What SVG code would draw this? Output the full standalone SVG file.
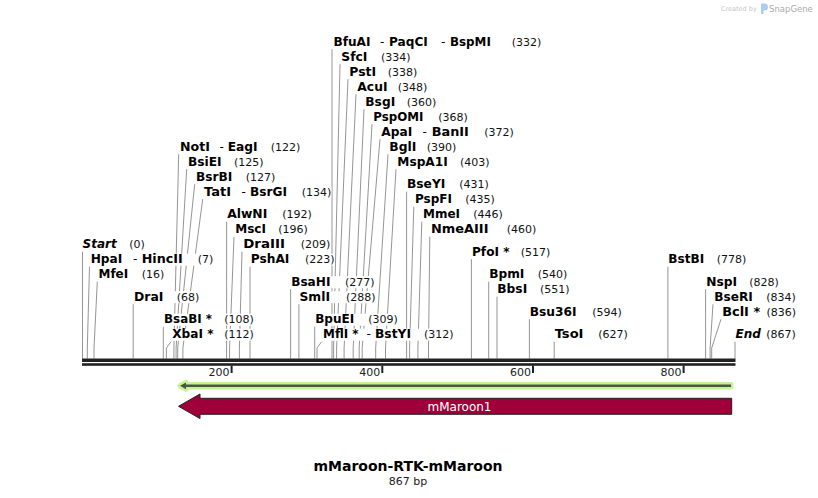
<svg xmlns="http://www.w3.org/2000/svg" width="818" height="498" viewBox="0 0 818 498">
<style>
.ln{stroke:#959595;stroke-width:1;fill:none}
.bg{fill:#fff}
.nm{font-family:"DejaVu Sans",Verdana,sans-serif;font-weight:bold;font-size:12px;fill:#000}
.it{font-style:italic}
.sp{font-family:"DejaVu Sans",Verdana,sans-serif;font-size:12px;fill:#000}
.nu{font-family:"DejaVu Sans",Verdana,sans-serif;font-size:11px;fill:#111}
.tk{font-family:"DejaVu Sans",Verdana,sans-serif;font-size:11px;fill:#222;text-anchor:end}
.ax{fill:#222}
</style>
<rect width="818" height="498" fill="#fff"/>
<g id="logo">
<text x="721" y="11" font-family="DejaVu Sans,sans-serif" font-size="6.5" fill="#c6c6c6">Created by</text>
<path d="M761,3.5 h3.5 a3.5,3.5 0 0 1 0,7 h-1 v3.5 h-2.5 z" fill="#a9cdee"/>
<text x="769" y="12" font-family="DejaVu Sans,sans-serif" font-size="8.5" fill="#ababab">SnapGene</text>
</g>
<g id="connectors">
<path class="ln" d="M82.5,251.7V358.5"/>
<path class="ln" d="M89.5,266.7L87.3,348V358.5"/>
<path class="ln" d="M97.3,281.7L94,348V358.5"/>
<path class="ln" d="M133.2,304.2V358.5"/>
<path class="ln" d="M163.3,326.7V358.5"/>
<path class="ln" d="M171,341.7L166.4,348V358.5"/>
<path class="ln" d="M178.7,154.2L173.9,348V358.5"/>
<path class="ln" d="M186.7,169.2L176.1,348V358.5"/>
<path class="ln" d="M194.7,184.2L177.7,348V358.5"/>
<path class="ln" d="M202.7,199.2L182.9,348V358.5"/>
<path class="ln" d="M226.6,221.7V358.5"/>
<path class="ln" d="M234,236.7L229.6,348V358.5"/>
<path class="ln" d="M242,251.7L239.4,348V358.5"/>
<path class="ln" d="M250,266.7V358.5"/>
<path class="ln" d="M290.6,289.2V358.5"/>
<path class="ln" d="M298.9,304.2V358.5"/>
<path class="ln" d="M314.7,326.7V358.5"/>
<path class="ln" d="M321.7,341.7L317,348V358.5"/>
<path class="ln" d="M332,49.2V358.5"/>
<path class="ln" d="M340,64.2L333.6,348V358.5"/>
<path class="ln" d="M348,79.2L336.6,348V358.5"/>
<path class="ln" d="M356,94.2L344.1,348V358.5"/>
<path class="ln" d="M364,109.2L353.2,348V358.5"/>
<path class="ln" d="M372,124.2L359.2,348V358.5"/>
<path class="ln" d="M380,139.2L362.2,348V358.5"/>
<path class="ln" d="M388,154.2L375.7,348V358.5"/>
<path class="ln" d="M396,169.2L385.5,348V358.5"/>
<path class="ln" d="M406.6,191.7V358.5"/>
<path class="ln" d="M413.8,206.7L409.6,348V358.5"/>
<path class="ln" d="M421.8,221.7L417.9,348V358.5"/>
<path class="ln" d="M429.8,236.7L428.5,348V358.5"/>
<path class="ln" d="M471.4,259.2V358.5"/>
<path class="ln" d="M488.7,281.7V358.5"/>
<path class="ln" d="M497,296.7V358.5"/>
<path class="ln" d="M529.4,319.2V358.5"/>
<path class="ln" d="M554.2,341.7V358.5"/>
<path class="ln" d="M667.9,266.7V358.5"/>
<path class="ln" d="M705.6,289.2V358.5"/>
<path class="ln" d="M713,304.2L710.1,348V358.5"/>
<path class="ln" d="M721,319.2L711.7,348V358.5"/>
<path class="ln" d="M735,341.7V358.5"/>
</g>
<g id="axis">
<rect class="ax" x="82" y="358.5" width="653.5" height="3.5"/>
<rect class="ax" x="82" y="363.2" width="653.5" height="2.6"/>
<rect class="ax" x="230.6" y="365.5" width="2" height="7.5"/>
<rect class="ax" x="381.3" y="365.5" width="2" height="7.5"/>
<rect class="ax" x="532" y="365.5" width="2" height="7.5"/>
<rect class="ax" x="682.6" y="365.5" width="2" height="7.5"/>
<text class="tk" x="229.5" y="375.5">200</text>
<text class="tk" x="380.2" y="375.5">400</text>
<text class="tk" x="530.9" y="375.5">600</text>
<text class="tk" x="681.5" y="375.5">800</text>
</g>
<g id="feature-green">
<path d="M180,385.8L186,382.4V384.6H731V387H186V389.2Z" fill="#4a5842" stroke="#c4f396" stroke-width="5" stroke-linejoin="round" paint-order="stroke"/>
</g>
<g id="feature-mMaroon1">
<path d="M178.5,406.3L200,394V398.3H731.7V414.3H200V418.6Z" fill="#a0003a" stroke="#222" stroke-width="1"/>
<text x="459.5" y="410.5" text-anchor="middle" font-family="DejaVu Sans,Verdana,sans-serif" font-size="12" fill="#fff">mMaroon1</text>
</g>
<g id="lbl-Start"><rect class="bg" x="81.5" y="238.7" width="63.4" height="12"/><text class="nm it" x="82.5" y="248.2">Start</text><text class="nu" x="129.3" y="248.2">(0)</text></g>
<g id="lbl-HpaI"><rect class="bg" x="89.7" y="253.7" width="123.6" height="12"/><text class="nm" x="90.7" y="263.2" textLength="31.6" lengthAdjust="spacingAndGlyphs">HpaI</text><text class="sp" x="133" y="263.2">-</text><text class="nm" x="141.7" y="263.2" textLength="41.1" lengthAdjust="spacingAndGlyphs">HincII</text><text class="nu" x="197.7" y="263.2">(7)</text></g>
<g id="lbl-MfeI"><rect class="bg" x="97.5" y="268.7" width="66.8" height="12"/><text class="nm" x="98.5" y="278.2" textLength="29.7" lengthAdjust="spacingAndGlyphs">MfeI</text><text class="nu" x="141.7" y="278.2">(16)</text></g>
<g id="lbl-DraI"><rect class="bg" x="133" y="291.2" width="66.3" height="12"/><text class="nm" x="134" y="300.7" textLength="29.4" lengthAdjust="spacingAndGlyphs">DraI</text><text class="nu" x="176.7" y="300.7">(68)</text></g>
<g id="lbl-BsaBI"><rect class="bg" x="163" y="313.7" width="90.9" height="12"/><text class="nm" x="164" y="323.2" textLength="48" lengthAdjust="spacingAndGlyphs">BsaBI *</text><text class="nu" x="224.3" y="323.2">(108)</text></g>
<g id="lbl-XbaI"><rect class="bg" x="171.2" y="328.7" width="82.7" height="12"/><text class="nm" x="172.2" y="338.2" textLength="41.3" lengthAdjust="spacingAndGlyphs">XbaI *</text><text class="nu" x="224.3" y="338.2">(112)</text></g>
<g id="lbl-NotI"><rect class="bg" x="179" y="141.2" width="121.3" height="12"/><text class="nm" x="180" y="150.7" textLength="30" lengthAdjust="spacingAndGlyphs">NotI</text><text class="sp" x="219.5" y="150.7">-</text><text class="nm" x="227.7" y="150.7" textLength="30" lengthAdjust="spacingAndGlyphs">EagI</text><text class="nu" x="270.7" y="150.7">(122)</text></g>
<g id="lbl-BsiEI"><rect class="bg" x="187" y="156.2" width="76.6" height="12"/><text class="nm" x="188" y="165.7" textLength="33.6" lengthAdjust="spacingAndGlyphs">BsiEI</text><text class="nu" x="234" y="165.7">(125)</text></g>
<g id="lbl-BsrBI"><rect class="bg" x="195" y="171.2" width="80.3" height="12"/><text class="nm" x="196" y="180.7" textLength="36.3" lengthAdjust="spacingAndGlyphs">BsrBI</text><text class="nu" x="245.7" y="180.7">(127)</text></g>
<g id="lbl-TatI"><rect class="bg" x="203" y="186.2" width="128.3" height="12"/><text class="nm" x="204" y="195.7" textLength="27" lengthAdjust="spacingAndGlyphs">TatI</text><text class="sp" x="241.5" y="195.7">-</text><text class="nm" x="250" y="195.7" textLength="37" lengthAdjust="spacingAndGlyphs">BsrGI</text><text class="nu" x="301.7" y="195.7">(134)</text></g>
<g id="lbl-AlwNI"><rect class="bg" x="226.2" y="208.7" width="85.7" height="12"/><text class="nm" x="227.2" y="218.2" textLength="40.1" lengthAdjust="spacingAndGlyphs">AlwNI</text><text class="nu" x="282.3" y="218.2">(192)</text></g>
<g id="lbl-MscI"><rect class="bg" x="234.2" y="223.7" width="73.7" height="12"/><text class="nm" x="235.2" y="233.2" textLength="30.8" lengthAdjust="spacingAndGlyphs">MscI</text><text class="nu" x="278.3" y="233.2">(196)</text></g>
<g id="lbl-DraIII"><rect class="bg" x="242.2" y="238.7" width="88.1" height="12"/><text class="nm" x="243.2" y="248.2" textLength="41.7" lengthAdjust="spacingAndGlyphs">DraIII</text><text class="nu" x="300.7" y="248.2">(209)</text></g>
<g id="lbl-PshAI"><rect class="bg" x="249.8" y="253.7" width="84.8" height="12"/><text class="nm" x="250.8" y="263.2" textLength="38.6" lengthAdjust="spacingAndGlyphs">PshAI</text><text class="nu" x="305" y="263.2">(223)</text></g>
<g id="lbl-BsaHI"><rect class="bg" x="290.2" y="276.2" width="84.4" height="12"/><text class="nm" x="291.2" y="285.7" textLength="39.2" lengthAdjust="spacingAndGlyphs">BsaHI</text><text class="nu" x="345" y="285.7">(277)</text></g>
<g id="lbl-SmlI"><rect class="bg" x="298.5" y="291.2" width="77.1" height="12"/><text class="nm" x="299.5" y="300.7" textLength="30.5" lengthAdjust="spacingAndGlyphs">SmlI</text><text class="nu" x="346" y="300.7">(288)</text></g>
<g id="lbl-BpuEI"><rect class="bg" x="314.2" y="313.7" width="83.7" height="12"/><text class="nm" x="315.2" y="323.2" textLength="39.1" lengthAdjust="spacingAndGlyphs">BpuEI</text><text class="nu" x="368.3" y="323.2">(309)</text></g>
<g id="lbl-MflI"><rect class="bg" x="322" y="328.7" width="131.6" height="12"/><text class="nm" x="323" y="338.2" textLength="35.6" lengthAdjust="spacingAndGlyphs">MflI *</text><text class="sp" x="366.5" y="338.2">-</text><text class="nm" x="375" y="338.2" textLength="36" lengthAdjust="spacingAndGlyphs">BstYI</text><text class="nu" x="424" y="338.2">(312)</text></g>
<g id="lbl-BfuAI"><rect class="bg" x="332.5" y="36.2" width="208.8" height="12"/><text class="nm" x="333.5" y="45.7" textLength="37" lengthAdjust="spacingAndGlyphs">BfuAI</text><text class="sp" x="380" y="45.7">-</text><text class="nm" x="389" y="45.7" textLength="38.8" lengthAdjust="spacingAndGlyphs">PaqCI</text><text class="sp" x="441" y="45.7">-</text><text class="nm" x="450" y="45.7" textLength="40.8" lengthAdjust="spacingAndGlyphs">BspMI</text><text class="nu" x="511.7" y="45.7">(332)</text></g>
<g id="lbl-SfcI"><rect class="bg" x="340.3" y="51.2" width="70.3" height="12"/><text class="nm" x="341.3" y="60.7" textLength="26.1" lengthAdjust="spacingAndGlyphs">SfcI</text><text class="nu" x="381" y="60.7">(334)</text></g>
<g id="lbl-PstI"><rect class="bg" x="348.3" y="66.2" width="69" height="12"/><text class="nm" x="349.3" y="75.7" textLength="26.8" lengthAdjust="spacingAndGlyphs">PstI</text><text class="nu" x="387.7" y="75.7">(338)</text></g>
<g id="lbl-AcuI"><rect class="bg" x="356.3" y="81.2" width="71" height="12"/><text class="nm" x="357.3" y="90.7" textLength="30.2" lengthAdjust="spacingAndGlyphs">AcuI</text><text class="nu" x="397.7" y="90.7">(348)</text></g>
<g id="lbl-BsgI"><rect class="bg" x="364.3" y="96.2" width="72" height="12"/><text class="nm" x="365.3" y="105.7" textLength="29.9" lengthAdjust="spacingAndGlyphs">BsgI</text><text class="nu" x="406.7" y="105.7">(360)</text></g>
<g id="lbl-PspOMI"><rect class="bg" x="372.3" y="111.2" width="95.6" height="12"/><text class="nm" x="373.3" y="120.7" textLength="50.2" lengthAdjust="spacingAndGlyphs">PspOMI</text><text class="nu" x="438.3" y="120.7">(368)</text></g>
<g id="lbl-ApaI"><rect class="bg" x="380.3" y="126.2" width="133.6" height="12"/><text class="nm" x="381.3" y="135.7" textLength="30.9" lengthAdjust="spacingAndGlyphs">ApaI</text><text class="sp" x="422.5" y="135.7">-</text><text class="nm" x="431.7" y="135.7" textLength="37.2" lengthAdjust="spacingAndGlyphs">BanII</text><text class="nu" x="484.3" y="135.7">(372)</text></g>
<g id="lbl-BglI"><rect class="bg" x="388.3" y="141.2" width="68" height="12"/><text class="nm" x="389.3" y="150.7" textLength="27" lengthAdjust="spacingAndGlyphs">BglI</text><text class="nu" x="426.7" y="150.7">(390)</text></g>
<g id="lbl-MspA1I"><rect class="bg" x="396.3" y="156.2" width="93.3" height="12"/><text class="nm" x="397.3" y="165.7" textLength="50.5" lengthAdjust="spacingAndGlyphs">MspA1I</text><text class="nu" x="460" y="165.7">(403)</text></g>
<g id="lbl-BseYI"><rect class="bg" x="406" y="178.7" width="82.9" height="12"/><text class="nm" x="407" y="188.2" textLength="38.3" lengthAdjust="spacingAndGlyphs">BseYI</text><text class="nu" x="459.3" y="188.2">(431)</text></g>
<g id="lbl-PspFI"><rect class="bg" x="414" y="193.7" width="80.9" height="12"/><text class="nm" x="415" y="203.2" textLength="37" lengthAdjust="spacingAndGlyphs">PspFI</text><text class="nu" x="465.3" y="203.2">(435)</text></g>
<g id="lbl-MmeI"><rect class="bg" x="422" y="208.7" width="80.9" height="12"/><text class="nm" x="423" y="218.2" textLength="37" lengthAdjust="spacingAndGlyphs">MmeI</text><text class="nu" x="473.3" y="218.2">(446)</text></g>
<g id="lbl-NmeAIII"><rect class="bg" x="430" y="223.7" width="106.3" height="12"/><text class="nm" x="431" y="233.2" textLength="57.5" lengthAdjust="spacingAndGlyphs">NmeAIII</text><text class="nu" x="506.7" y="233.2">(460)</text></g>
<g id="lbl-PfoI"><rect class="bg" x="471" y="246.2" width="79.3" height="12"/><text class="nm" x="472" y="255.7" textLength="37.5" lengthAdjust="spacingAndGlyphs">PfoI *</text><text class="nu" x="520.7" y="255.7">(517)</text></g>
<g id="lbl-BpmI"><rect class="bg" x="488.2" y="268.7" width="79.1" height="12"/><text class="nm" x="489.2" y="278.2" textLength="35.2" lengthAdjust="spacingAndGlyphs">BpmI</text><text class="nu" x="537.7" y="278.2">(540)</text></g>
<g id="lbl-BbsI"><rect class="bg" x="496.3" y="283.7" width="73.3" height="12"/><text class="nm" x="497.3" y="293.2" textLength="29.9" lengthAdjust="spacingAndGlyphs">BbsI</text><text class="nu" x="540" y="293.2">(551)</text></g>
<g id="lbl-Bsu36I"><rect class="bg" x="528.8" y="306.2" width="93.1" height="12"/><text class="nm" x="529.8" y="315.7" textLength="46.8" lengthAdjust="spacingAndGlyphs">Bsu36I</text><text class="nu" x="592.3" y="315.7">(594)</text></g>
<g id="lbl-TsoI"><rect class="bg" x="553.7" y="328.7" width="74.2" height="12"/><text class="nm" x="554.7" y="338.2" textLength="28.8" lengthAdjust="spacingAndGlyphs">TsoI</text><text class="nu" x="598.3" y="338.2">(627)</text></g>
<g id="lbl-BstBI"><rect class="bg" x="667.3" y="253.7" width="79" height="12"/><text class="nm" x="668.3" y="263.2" textLength="35.9" lengthAdjust="spacingAndGlyphs">BstBI</text><text class="nu" x="716.7" y="263.2">(778)</text></g>
<g id="lbl-NspI"><rect class="bg" x="705.2" y="276.2" width="73.7" height="12"/><text class="nm" x="706.2" y="285.7" textLength="30.9" lengthAdjust="spacingAndGlyphs">NspI</text><text class="nu" x="749.3" y="285.7">(828)</text></g>
<g id="lbl-BseRI"><rect class="bg" x="713.3" y="291.2" width="82.3" height="12"/><text class="nm" x="714.3" y="300.7" textLength="38.5" lengthAdjust="spacingAndGlyphs">BseRI</text><text class="nu" x="766.3" y="300.7">(834)</text></g>
<g id="lbl-BclI"><rect class="bg" x="721.2" y="306.2" width="75.1" height="12"/><text class="nm" x="722.2" y="315.7" textLength="38" lengthAdjust="spacingAndGlyphs">BclI *</text><text class="nu" x="766.5" y="315.7">(836)</text></g>
<g id="lbl-End"><rect class="bg" x="734.5" y="328.7" width="61.1" height="12"/><text class="nm it" x="735.5" y="338.2">End</text><text class="nu" x="766.3" y="338.2">(867)</text></g>
<g id="title">
<text x="408" y="471" text-anchor="middle" font-family="DejaVu Sans,Verdana,sans-serif" font-weight="bold" font-size="14" fill="#000">mMaroon-RTK-mMaroon</text>
<text x="408" y="484.5" text-anchor="middle" font-family="DejaVu Sans,Verdana,sans-serif" font-size="11" fill="#222">867 bp</text>
</g>
</svg>
